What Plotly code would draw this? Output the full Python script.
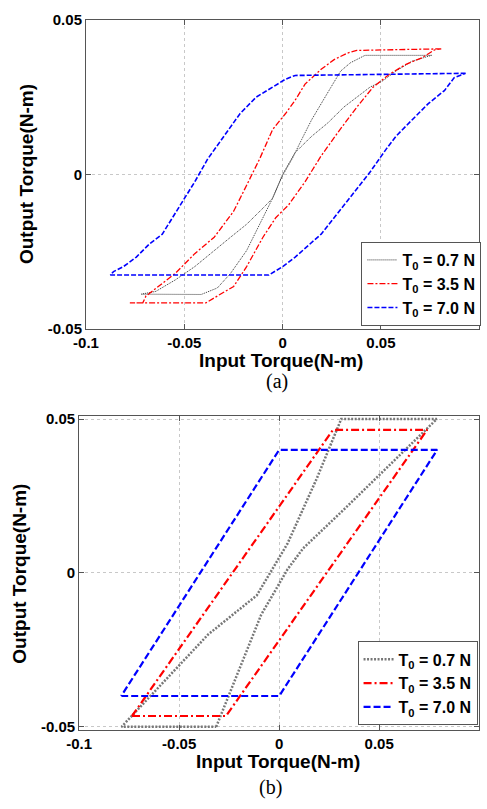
import plotly.graph_objects as go

# ---------------- (a) measured hysteresis loops ----------------
a_black_x = [0.0757, 0.0419, 0.0345, 0.0295, 0.0246, 0.0196, 0.0147, 0.0097, 0.0048, 0.0, -0.0051, -0.0100,
             -0.0183, -0.0265, -0.0348, -0.0447, -0.0546, -0.0645, -0.0719, -0.0414, -0.0332, -0.0265, -0.0183,
             -0.0117, -0.0051, 0.0, 0.0064, 0.0147, 0.0229, 0.0312, 0.0378, 0.0444, 0.0510, 0.0576, 0.0658, 0.0757]
a_black_y = [0.0385, 0.0385, 0.0361, 0.0334, 0.0282, 0.0229, 0.0176, 0.0113, 0.0050, -0.0003, -0.0077, -0.0109,
             -0.0161, -0.0203, -0.0246, -0.0298, -0.0341, -0.0378, -0.0387, -0.0388, -0.0367, -0.0320, -0.0246,
             -0.0161, -0.0077, 0.0, 0.0071, 0.0123, 0.0166, 0.0218, 0.0250, 0.0282, 0.0303, 0.0334, 0.0366, 0.0385]

a_red_x = [0.0807, 0.0377, 0.0328, 0.0262, 0.0196, 0.0114, 0.0064, 0.0015, -0.0051, -0.0117, -0.0183, -0.0249,
           -0.0348, -0.0447, -0.0546, -0.0629, -0.0695, -0.0711, -0.0777, -0.0390, -0.0332, -0.0249, -0.0183,
           -0.0100, -0.0035, 0.0031, 0.0114, 0.0196, 0.0279, 0.0378, 0.0460, 0.0543, 0.0625, 0.0708, 0.0774, 0.0807]
a_red_y = [0.0406, 0.0401, 0.0392, 0.0371, 0.0340, 0.0292, 0.0240, 0.0197, 0.0145, 0.0050, -0.0035, -0.0119,
           -0.0203, -0.0256, -0.0320, -0.0362, -0.0393, -0.0415, -0.0415, -0.0415, -0.0393, -0.0362, -0.0298,
           -0.0203, -0.0140, -0.0098, -0.0024, 0.0060, 0.0134, 0.0218, 0.0282, 0.0324, 0.0355, 0.0377, 0.0403, 0.0406]

a_blue_x = [0.0931, 0.0064, 0.0015, -0.0051, -0.0134, -0.0216, -0.0299, -0.0381, -0.0447, -0.0530, -0.0612,
            -0.0678, -0.0744, -0.0810, -0.0860, -0.0876, -0.0070, 0.0, 0.0064, 0.0196, 0.0328, 0.0444, 0.0526,
            0.0576, 0.0658, 0.0741, 0.0823, 0.0873, 0.0931]
a_blue_y = [0.0327, 0.0320, 0.0308, 0.0282, 0.0250, 0.0197, 0.0123, 0.0050, -0.0024, -0.0109, -0.0193,
            -0.0225, -0.0267, -0.0298, -0.0314, -0.0325, -0.0325, -0.0298, -0.0267, -0.0193, -0.0088, 0.0007, 0.0081,
            0.0123, 0.0176, 0.0229, 0.0271, 0.0313, 0.0327]

# ---------------- (b) model hysteresis loops ----------------
b_black_x = [-0.0315, -0.0090, 0.0042, 0.0120, 0.0330, 0.0788, 0.0310, 0.0188, 0.0042, -0.0112, -0.0355, -0.0788, -0.0315]
b_black_y = [-0.0500, -0.0136, 0.0012, 0.0080, 0.0210, 0.0500, 0.0500, 0.0307, 0.0096, -0.0073, -0.0200, -0.0500, -0.0500]

b_red_x = [-0.0736, -0.0266, 0.0740, 0.0269, -0.0736]
b_red_y = [-0.0465, -0.0465, 0.0465, 0.0465, -0.0465]

b_blue_x = [-0.0790, 0.0, 0.0790, 0.0, -0.0790]
b_blue_y = [-0.0400, -0.0400, 0.0400, 0.0400, -0.0400]

names = ["T<sub>0</sub> = 0.7 N", "T<sub>0</sub> = 3.5 N", "T<sub>0</sub> = 7.0 N"]
x_ticks = [-0.1, -0.05, 0, 0.05, 0.1]
x_tick_text = ["-0.1", "-0.05", "0", "0.05", "0.1"]
y_ticks = [-0.05, 0, 0.05]
y_tick_text = ["-0.05", "0", "0.05"]

W, H = 487, 809
FONT = "Liberation Sans, Arial, sans-serif"

fig = go.Figure()

# (a)
fig.add_trace(go.Scatter(x=a_black_x, y=a_black_y, mode="lines", name=names[0], xaxis="x", yaxis="y",
                         line=dict(color="#333333", width=1, dash="1px,1px"), legend="legend", legendgroup="a1"))
fig.add_trace(go.Scatter(x=a_red_x, y=a_red_y, mode="lines", name=names[1], xaxis="x", yaxis="y",
                         line=dict(color="#ff0000", width=1.3, dash="6px,2px,2px,2px"), legend="legend", legendgroup="a2"))
fig.add_trace(go.Scatter(x=a_blue_x, y=a_blue_y, mode="lines", name=names[2], xaxis="x", yaxis="y",
                         line=dict(color="#0000ff", width=1.6, dash="5px,2px"), legend="legend", legendgroup="a3"))
# (b)
fig.add_trace(go.Scatter(x=b_black_x, y=b_black_y, mode="lines", name=names[0], xaxis="x2", yaxis="y2",
                         line=dict(color="#777777", width=2.5, dash="2px,1.5px"), legend="legend2", legendgroup="b1"))
fig.add_trace(go.Scatter(x=b_red_x, y=b_red_y, mode="lines", name=names[1], xaxis="x2", yaxis="y2",
                         line=dict(color="#ff0000", width=2.2, dash="8px,3px,2px,3px"), legend="legend2", legendgroup="b2"))
fig.add_trace(go.Scatter(x=b_blue_x, y=b_blue_y, mode="lines", name=names[2], xaxis="x2", yaxis="y2",
                         line=dict(color="#0000ff", width=2.2, dash="7px,3px"), legend="legend2", legendgroup="b3"))

tickfont = dict(family=FONT, size=15, color="black", weight="bold")
common_axis = dict(showline=True, linecolor="#555555", linewidth=1, mirror="ticks", ticks="inside",
                   ticklen=5, tickcolor="#555555", showgrid=True, gridcolor="#c8c8c8", griddash="dot",
                   gridwidth=1, zeroline=False, tickfont=tickfont, fixedrange=True)

legend_font = dict(family=FONT, size=16, color="black", weight="bold")
fig.update_layout(
    width=W, height=H, margin=dict(l=0, r=0, t=0, b=0),
    paper_bgcolor="white", plot_bgcolor="white",
    xaxis=dict(domain=[75 / W, 479 / W], range=[-0.1, 0.1], tickvals=x_ticks, ticktext=x_tick_text,
               anchor="y", **common_axis),
    yaxis=dict(domain=[1 - 327 / H, 1 - 11 / H], range=[-0.05, 0.05], tickvals=y_ticks, ticktext=y_tick_text,
               anchor="x", **common_axis),
    xaxis2=dict(domain=[68 / W, 479 / W], range=[-0.1, 0.1], tickvals=x_ticks, ticktext=x_tick_text,
                anchor="y2", **common_axis),
    yaxis2=dict(domain=[1 - 736 / H, 1 - 416 / H], range=[-0.0509, 0.0509], tickvals=y_ticks, ticktext=y_tick_text,
                anchor="x2", **common_axis),
    legend=dict(x=358 / W, y=1 - 238 / H, xanchor="left", yanchor="top", bgcolor="white",
                bordercolor="#555555", borderwidth=1, tracegroupgap=0, font=legend_font),
    legend2=dict(x=354 / W, y=1 - 646 / H, xanchor="left", yanchor="top", bgcolor="white",
                 bordercolor="#555555", borderwidth=1, tracegroupgap=0, font=legend_font),
)

title_font = dict(family=FONT, size=19, color="black", weight="bold")
cap_font = dict(family="Liberation Serif, Times New Roman, serif", size=20, color="black")
ann = [
    dict(text="Input Torque(N-m)", x=275.5 / W, y=1 - 359 / H, font=title_font),
    dict(text="Output Torque(N-m)", x=14 / W, y=1 - 169 / H, font=title_font, textangle=-90),
    dict(text="(a)", x=271 / W, y=1 - 381 / H, font=cap_font),
    dict(text="Input Torque(N-m)", x=272.5 / W, y=1 - 769 / H, font=title_font),
    dict(text="Output Torque(N-m)", x=7 / W, y=1 - 577 / H, font=title_font, textangle=-90),
    dict(text="(b)", x=265 / W, y=1 - 795 / H, font=cap_font),
]
for a in ann:
    fig.add_annotation(xref="paper", yref="paper", showarrow=False, xanchor="center", yanchor="middle", **a)

fig.write_html("out.html")
